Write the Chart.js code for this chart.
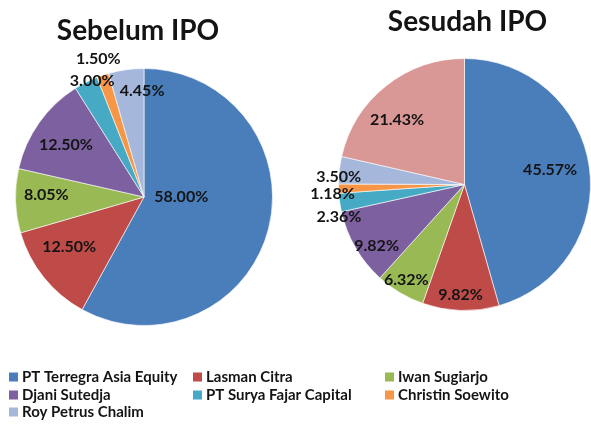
<!DOCTYPE html>
<html>
<head>
<meta charset="utf-8">
<script src="https://cdn.jsdelivr.net/npm/chart.js@4/dist/chart.umd.min.js"></script>
<style>
html,body{margin:0;padding:0;background:#fff;}
#wrap{position:relative;width:591px;height:425px;overflow:hidden;}
canvas{position:absolute;left:0;top:0;}
</style>
</head>
<body>
<div id="wrap">
<canvas id="c1" width="591" height="425"></canvas>
<canvas id="c2" width="591" height="425"></canvas>
</div>
<script>
// ---- data ----
const holders = ['PT Terregra Asia Equity','Lasman Citra','Iwan Sugiarjo','Djani Sutedja','PT Surya Fajar Capital','Christin Soewito','Roy Petrus Chalim'];
const beforeValues = [58.00, 12.50, 8.05, 12.50, 3.00, 1.50, 4.45];
const afterHolders = holders.concat(['Publik']);
const afterValues = [45.57, 9.82, 6.32, 9.82, 2.36, 1.18, 3.50, 21.43];
const titleBefore = 'Sebelum IPO';
const titleAfter = 'Sesudah IPO';

// ---- style ----
const colors = ['#4A7EBB','#BE4B48','#98B954','#7D60A0','#46AAC5','#F79646','#A5B8DC','#D99795'];
const textColor = '#141414';
const labelFont = 'bold 16px Lato, "Open Sans", sans-serif';
// per-slice label placement: [radius fraction, angle tweak in degrees]
const placeBefore = [[0.29,-14.4],[0.70,5],[0.76,2.7],[0.73,-1.6],[0.99,2.8],[1.13,0.4],[0.83,7]];
const placeAfter = [[0.69,-2],[0.88,0.3],[0.89,0.5],[0.85,-4.7],[1.03,-6.4],[1.05,-2.1],[1.0,-3],[0.74,-7.7]];

function fmt(v){ return v.toFixed(2) + '%'; }

const labelPlugin = {
  id: 'sliceLabels',
  afterDatasetsDraw(chart, args, opts) {
    const ctx = chart.ctx;
    const meta = chart.getDatasetMeta(0);
    const vals = chart.data.datasets[0].data;
    ctx.save();
    ctx.font = labelFont;
    ctx.fillStyle = textColor;
    ctx.textAlign = 'center';
    ctx.textBaseline = 'middle';
    meta.data.forEach((arc, i) => {
      const p = arc.getProps(['x','y','startAngle','endAngle','outerRadius'], true);
      const pl = opts.place[i];
      const a = (p.startAngle + p.endAngle) / 2 + pl[1] * Math.PI / 180;
      const r = p.outerRadius * pl[0];
      ctx.fillText(fmt(vals[i]), p.x + Math.cos(a) * r, p.y + Math.sin(a) * r);
    });
    // title
    ctx.font = 'bold 28px Lato, "Open Sans", sans-serif';
    ctx.textBaseline = 'middle';
    const ca = chart.chartArea;
    ctx.fillText(opts.title, (ca.left + ca.right) / 2 + opts.titleDx, ca.top + opts.titleDy);
    ctx.restore();
  }
};

const legendPlugin = {
  id: 'gridLegend',
  afterDraw(chart, args, opts) {
    if (!opts.show) return;
    const ctx = chart.ctx;
    const cols = [9, 193, 385];
    const rows = [377, 395, 412];
    ctx.save();
    ctx.font = 'bold 15px Lato, "Open Sans", sans-serif';
    ctx.textBaseline = 'middle';
    ctx.textAlign = 'left';
    holders.forEach((name, i) => {
      const x = cols[i % 3], y = rows[Math.floor(i / 3)];
      ctx.fillStyle = colors[i];
      ctx.fillRect(x, y - 4.5, 9, 9);
      ctx.fillStyle = textColor;
      ctx.fillText(name, x + 13, y);
    });
    ctx.restore();
  }
};

function makePie(id, labels, values, padding, place, title, titleDx, titleDy, showLegend) {
  return new Chart(document.getElementById(id), {
    type: 'pie',
    data: {
      labels: labels,
      datasets: [{
        data: values,
        backgroundColor: colors.slice(0, values.length),
        borderColor: 'rgba(255,255,255,0.6)',
        borderWidth: 1
      }]
    },
    options: {
      responsive: false,
      animation: false,
      devicePixelRatio: 1,
      layout: { padding: padding },
      plugins: {
        legend: { display: false },
        tooltip: { enabled: false },
        title: { display: false },
        sliceLabels: { place: place, title: title, titleDx: titleDx, titleDy: titleDy },
        gridLegend: { show: showLegend }
      }
    },
    plugins: [labelPlugin, legendPlugin]
  });
}

makePie('c1', holders, beforeValues, {left: 15, right: 318, top: 68, bottom: 99}, placeBefore, titleBefore, -6, -37, true);
makePie('c2', afterHolders, afterValues, {left: 338, right: 0, top: 58, bottom: 114}, placeAfter, titleAfter, 3, -36, false);
</script>
</body>
</html>
